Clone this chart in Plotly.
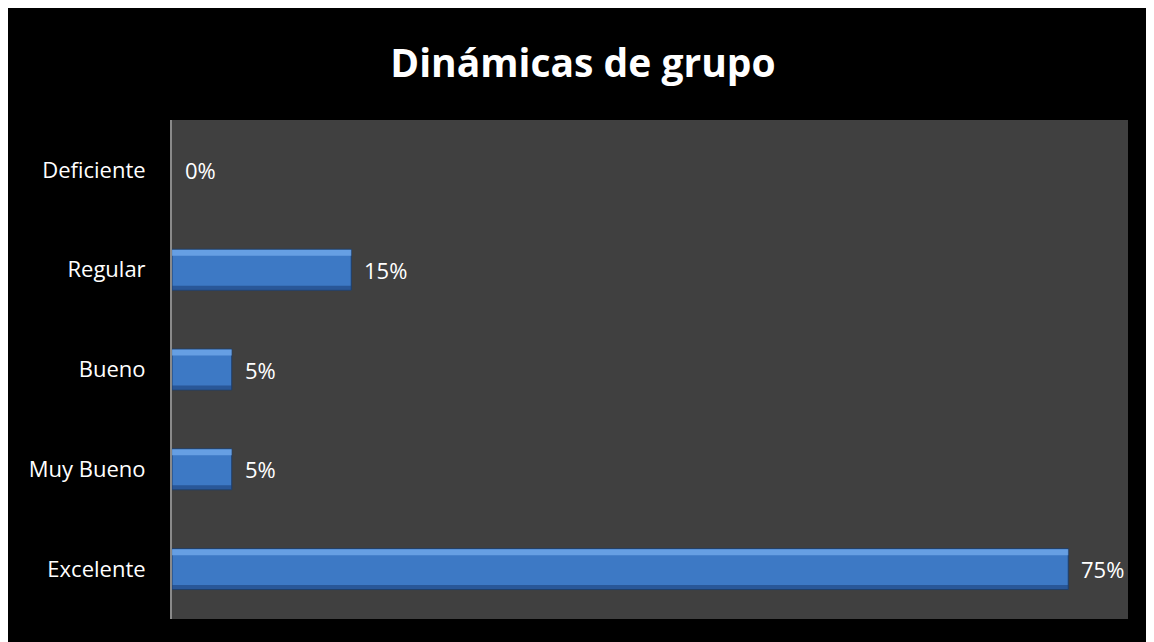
import plotly.graph_objects as go

# Data
categories = ["Excelente", "Muy Bueno", "Bueno", "Regular", "Deficiente"]
values = [75, 5, 5, 15, 0]
value_labels = ["75%", "5%", "5%", "15%", "0%"]
title_text = "Dinámicas de grupo"

W, H = 1154, 642
L, R, T, B = 164, 34, 112, 31

FONT = "Open Sans"

fig = go.Figure()

# base bars
fig.add_trace(go.Bar(
    y=categories, x=values, orientation="h",
    width=0.41, offset=-0.205,
    marker=dict(color="#3d79c5",
                line=dict(color="#1f3e68", width=[1 if v > 0 else 0 for v in values])),
    hoverinfo="skip", showlegend=False,
))
# top highlight
fig.add_trace(go.Bar(
    y=categories, x=values, orientation="h",
    width=0.06, offset=0.14,
    marker=dict(color="rgba(120,175,240,0.7)", line=dict(width=0)),
    hoverinfo="skip", showlegend=False,
))
# bottom shade
fig.add_trace(go.Bar(
    y=categories, x=values, orientation="h",
    width=0.04, offset=-0.2,
    marker=dict(color="rgba(25,60,115,0.55)", line=dict(width=0)),
    hoverinfo="skip", showlegend=False,
))

for c, v, lab in zip(categories, values, value_labels):
    fig.add_annotation(x=v, y=c, text=lab, showarrow=False, xanchor="left",
                       xshift=11, font=dict(family=FONT, size=22, color="white"))

fig.update_layout(
    width=W, height=H,
    margin=dict(l=L, r=R, t=T, b=B),
    paper_bgcolor="black",
    plot_bgcolor="#404040",
    barmode="overlay",
    title=dict(text="<b>" + title_text + "</b>", x=(583 - 8) / W, xanchor="center",
               y=1 - 55 / H, yanchor="middle",
               font=dict(family=FONT, size=39, color="white")),
    xaxis=dict(range=[0, 80], showgrid=False, zeroline=False, showticklabels=False,
               showline=False, fixedrange=True),
    yaxis=dict(type="category", categoryorder="array", categoryarray=categories,
               showgrid=False, zeroline=False, showline=True, linecolor="#8a8a8a",
               linewidth=2, ticks="", ticklabelstandoff=20,
               tickfont=dict(family=FONT, size=22, color="white"),
               range=[-0.5, 4.5], fixedrange=True),
    font=dict(family=FONT, color="white"),
)

fig.write_html("out.html")
